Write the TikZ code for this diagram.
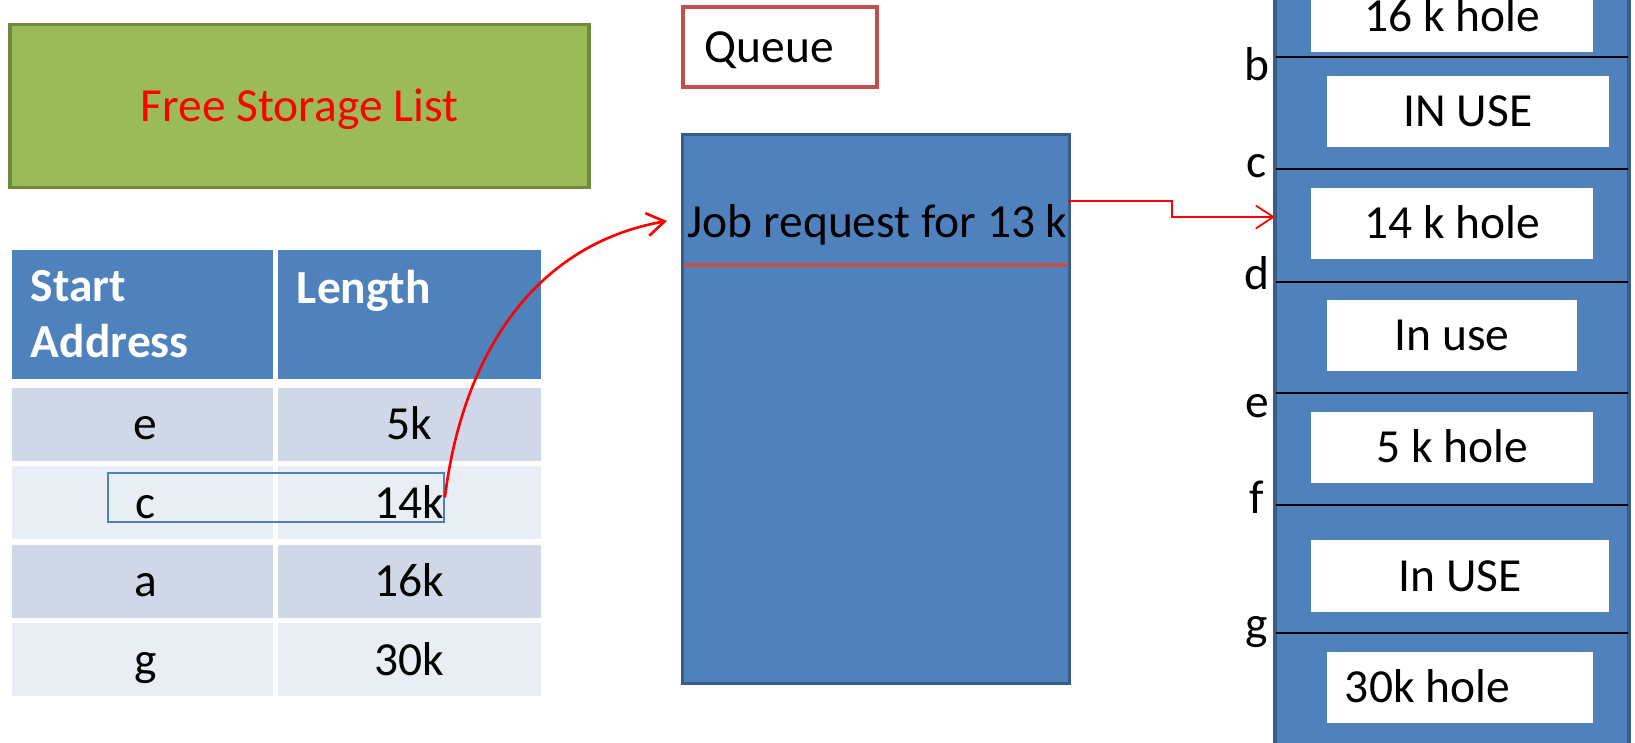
\documentclass[tikz,border=0pt]{standalone}
\usepackage{fontspec}
\setmainfont{Carlito}
\usepackage{tikz}
\usetikzlibrary{arrows.meta, positioning}

\definecolor{greenfill}{HTML}{9BBB59}
\definecolor{greenline}{HTML}{71893F}
\definecolor{hdrblue}{HTML}{4F81BD}
\definecolor{rowdark}{HTML}{D0D8E8}
\definecolor{rowlight}{HTML}{E9EDF4}
\definecolor{queuered}{HTML}{C0504D}
\definecolor{boxblue}{HTML}{4F81BD}
\definecolor{boxline}{HTML}{385D8A}

\begin{document}
\begin{tikzpicture}[x=0.01cm, y=0.01cm, >={Straight Barb[length=5pt,width=6.5pt]},
  every node/.style={inner sep=0pt, font=\fontsize{13.5}{15.5}\selectfont},
  caps/.style={text height=0.306cm, text depth=0pt},
  lcol/.style={caps, minimum height=0.73cm, minimum width=2.605cm},
  rcol/.style={caps, minimum height=0.73cm, minimum width=2.62cm},
  hdr/.style={fill=hdrblue, text=white, font=\fontsize{13.5}{15.8}\selectfont\bfseries, align=left, minimum height=1.285cm, inner xsep=0.185cm},
  hole/.style={caps, fill=white, minimum height=0.71cm},
  lbl/.style={anchor=base},
  link/.style={->, red, line width=0.75pt}]
\useasboundingbox (0,0) rectangle (1635,743);
\clip (0,0) rectangle (1635,743);

% Nodes
\node[caps, fill=greenfill, draw=greenline, line width=1.1pt, minimum width=5.79cm, minimum height=1.63cm, text=red] (fsl) at (299.5,637) {Free Storage List};

\node[hdr, text width=2.235cm] (hstart) at (142.75,428.75) {Start\\Address};
\node[hdr, text width=2.25cm, right=0.04cm of hstart] (hlen) {Length\\\mbox{}};
\node[lcol, fill=rowdark, below=0.08cm of hstart] (ae) {\hspace*{0.06cm}e};
\node[rcol, fill=rowdark, right=0.04cm of ae] (le) {5k};
\node[lcol, fill=rowlight, below=0.04cm of ae] (ac) {\hspace*{0.06cm}c};
\node[rcol, fill=rowlight, right=0.04cm of ac] (lc) {14k};
\node[lcol, fill=rowdark, below=0.04cm of ac] (aa) {\hspace*{0.06cm}a};
\node[rcol, fill=rowdark, right=0.04cm of aa] (la) {16k};
\node[lcol, fill=rowlight, below=0.04cm of aa] (ag) {\hspace*{0.06cm}g};
\node[rcol, fill=rowlight, right=0.04cm of ag] (lg) {30k};
\node[draw=hdrblue, line width=0.45pt, minimum width=3.36cm, minimum height=0.49cm] (hl) at (276,245.5) {};

\node[caps, draw=queuered, line width=1.1pt, fill=white, minimum height=0.8cm, inner xsep=0.22cm] (queue) at (780,696) {\makebox[1.5cm][l]{Queue}};
\node[fill=boxblue, draw=boxline, line width=0.85pt, minimum width=3.86cm, minimum height=5.48cm] (qbox) at (876,334) {};
\node[anchor=west, minimum height=0.46cm] (job) at (687,518) {Job request for 13 k};
\draw[queuered, line width=1.1pt] (684,478) -- (1067,478);

\node[fill=boxblue, draw=boxline, line width=1.1pt, minimum width=3.54cm, minimum height=7.63cm] (mem) at (1452,371.5) {};
\draw[line width=0.55pt] (1276,686) -- (1628,686) (1276,574) -- (1628,574) (1276,461) -- (1628,461)
  (1276,350) -- (1628,350) (1276,238) -- (1628,238) (1276,110) -- (1628,110);
\node[hole, minimum width=2.82cm] (h16) at (1452,726.5) {16 k hole};
\node[hole, minimum width=2.82cm] (use1) at (1468,631.5) {IN USE};
\node[hole, minimum width=2.82cm] (h14) at (1452,519.5) {14 k hole};
\node[hole, minimum width=2.5cm] (use2) at (1452,407.5) {In use};
\node[hole, minimum width=2.82cm] (h5) at (1452,295.5) {5 k hole};
\node[hole, minimum width=2.98cm] (use3) at (1460,167) {In USE};
\node[hole, inner xsep=0.18cm] (h30) at (1460,55.5) {\makebox[2.3cm][l]{30k hole}};

\node[lbl] (lb) at (1257,662) {b};
\node[lbl] (lc) at (1257,565) {c};
\node[lbl] (ld) at (1257,453) {d};
\node[lbl] (lee) at (1257,325) {e};
\node[lbl] (lf) at (1257,229) {f};
\node[lbl] (lgg) at (1257,103) {g};

\coordinate (jobin) at (667,522);
\coordinate (holein) at (1275,526);

% Edges
\draw[link] (hl.east) to[out=83, in=190] (jobin);
\draw[link, line width=0.5pt] (job.north east) -- ++(104,0) |- (holein);
\end{tikzpicture}
\end{document}
